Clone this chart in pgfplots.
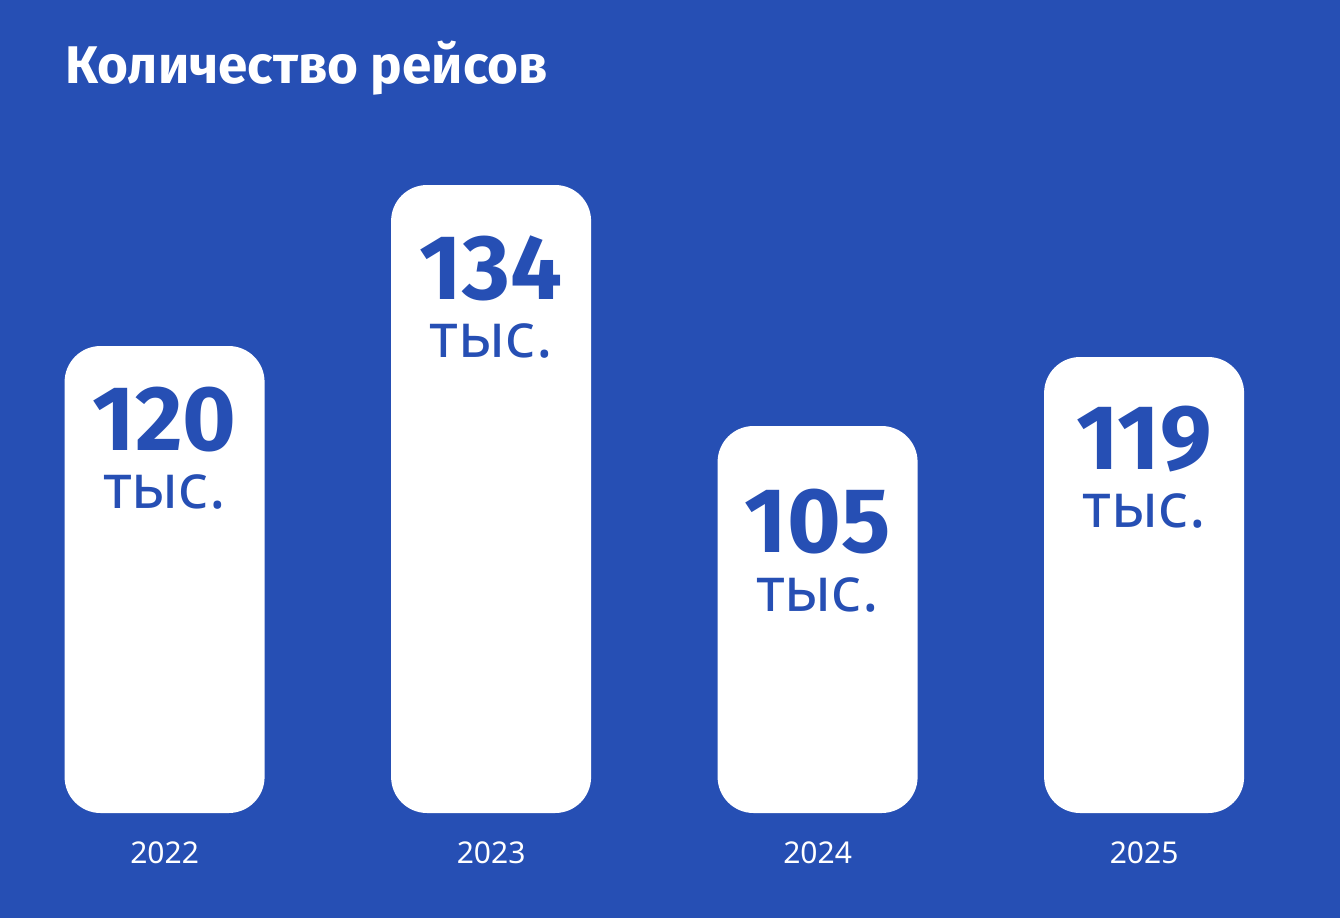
\documentclass[border=0pt]{standalone}
\usepackage{pgfplots}
\pgfplotsset{compat=1.18}
\usepackage{pgfplotstable}
\usepackage{fontspec}
\setmainfont{Noto Sans}
\newfontfamily\boldfam{Fira Sans}
\definecolor{bg}{RGB}{38,79,180}
% x: year index, h: drawn bar height, ny/ty: label baselines, lab: value (thousand)
\pgfplotstableread{
x h ny ty lab
0 467 363 305 120
1 628 514 456 134
2 387 261 202 105
3 456 344 286 119
}\bars
\begin{document}
\begin{tikzpicture}
\begin{axis}[
  scale only axis, width=670pt, height=459pt,
  xmin=-0.5041, xmax=3.600, ymin=-105, ymax=813,
  axis background/.style={fill=bg},
  axis line style={draw=none},
  tick style={draw=none},
  ytick=\empty,
  xtick={0,1,2,3}, xticklabels={2022,2023,2024,2025},
  xticklabel style={font=\fontsize{15}{15}\selectfont, text=white, anchor=base, yshift=27.5pt},
  title={Количество рейсов},
  title style={at={(rel axis cs:0.0485,0.9074)}, anchor=base west, yshift=-5pt, font=\fontsize{26.5}{26.5}\selectfont\boldfam\bfseries, text=white, inner sep=0pt},
  clip=false,
]
\addplot[ybar, bar width=100pt, fill=white, draw=none, rounded corners=18pt] table[x=x, y=h]{\bars};
\addplot[draw=none, mark=none, nodes near coords, point meta=explicit symbolic,
  every node near coord/.append style={anchor=base, text=bg, inner sep=0pt, text depth=0pt, font=\fontsize{46}{46}\selectfont\boldfam\bfseries}]
  table[x=x, y=ny, meta=lab]{\bars};
\addplot[draw=none, mark=none, nodes near coords={тыс.},
  every node near coord/.append style={anchor=base, text=bg, inner sep=0pt, text height=16pt, font=\fontsize{31}{31}\selectfont}]
  table[x=x, y=ty]{\bars};
\end{axis}
\end{tikzpicture}
\end{document}
